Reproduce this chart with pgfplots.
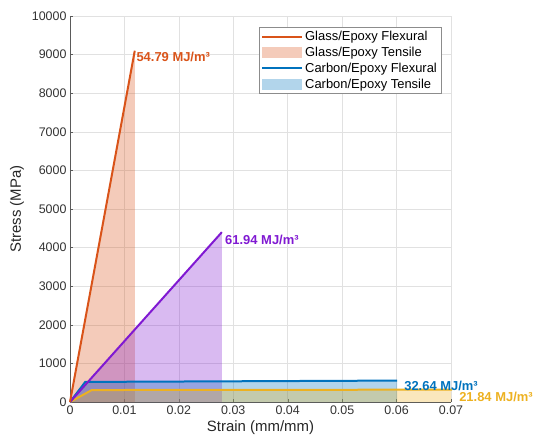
\documentclass[border=0pt]{standalone}
\usepackage{pgfplots}
\pgfplotsset{compat=1.18}
\usepackage{fontspec}
\setmainfont{Liberation Sans}
\definecolor{cOr}{RGB}{217,83,25}
\definecolor{cBl}{RGB}{0,114,189}
\definecolor{cPu}{RGB}{128,25,210}
\definecolor{cYe}{RGB}{237,177,32}
\definecolor{cGrid}{RGB}{225,225,225}
\definecolor{cAx}{RGB}{90,90,90}
\pgfplotsset{
  legline/.style={legend image code/.code={\draw[color=#1, line width=2bp] (0bp,0bp) -- (40bp,0bp);}},
  legfill/.style={legend image code/.code={\fill[draw=none, fill=#1!30!white] (0bp,-5.5bp) rectangle (40bp,5.5bp);}},
}
\begin{document}
\begin{tikzpicture}
\begin{axis}[
  at={(0,0)}, anchor=south west,
  scale only axis, width=381bp, height=386bp,
  xmin=0, xmax=0.07, ymin=0, ymax=10000,
  scaled ticks=false,
  /pgf/number format/assume math mode=true,
  axis x line*=bottom, axis y line*=left,
  axis line style={cAx, line width=0.6bp, -},
  xtick={0,0.01,0.02,0.03,0.04,0.05,0.06,0.07},
  xticklabels={0,0.01,0.02,0.03,0.04,0.05,0.06,0.07},
  ytick={0,1000,...,10000},
  yticklabels={0,1000,2000,3000,4000,5000,6000,7000,8000,9000,10000},
  tick align=inside, major tick length=3bp,
  tick style={cAx},
  grid=major, major grid style={cGrid, line width=0.5bp},
  ticklabel style={font=\fontsize{12.5}{14}\selectfont, text=black!80},
  xlabel={Strain (mm/mm)}, ylabel={Stress (MPa)},
  label style={font=\fontsize{15}{18}\selectfont, text=black!85},
  xlabel style={at={(axis description cs:0.5,-0.067)}, anchor=center},
  ylabel style={at={(axis description cs:-0.139,0.5)}, anchor=center},
  clip=false,
  legend cell align=left,
  legend style={at={(axis description cs:0.974,0.9715)}, anchor=north east,
    font=\fontsize{13}{13}\selectfont, draw=black!45,
    inner xsep=2bp, inner ysep=2bp, row sep=1bp,
    /tikz/every even column/.append style={column sep=2bp}},
]
% legend entries
\addlegendimage{legline=cOr}
\addlegendentry{Glass/Epoxy Flexural}
\addlegendimage{legfill=cOr}
\addlegendentry{Glass/Epoxy Tensile}
\addlegendimage{legline=cBl}
\addlegendentry{Carbon/Epoxy Flexural}
\addlegendimage{legfill=cBl}
\addlegendentry{Carbon/Epoxy Tensile}
% fills
\addplot[forget plot, draw=none, fill=cOr, fill opacity=0.3] coordinates {(0,0) (0.0119,9100) (0.0119,0)} -- cycle;
\addplot[forget plot, draw=none, fill=cPu, fill opacity=0.3] coordinates {(0,0) (0.0279,4400) (0.0279,0)} -- cycle;
\addplot[forget plot, draw=none, fill=cBl, fill opacity=0.3] coordinates {(0,0) (0.0028,520) (0.0601,555) (0.0601,0)} -- cycle;
\addplot[forget plot, draw=none, fill=cYe, fill opacity=0.3] coordinates {(0,0) (0.004,310) (0.07,320) (0.07,0)} -- cycle;
% lines
\addplot[forget plot, cYe, line width=2bp] coordinates {(0,0) (0.004,310) (0.0702,320)};
\addplot[forget plot, cBl, line width=2bp] coordinates {(0,0) (0.0028,520) (0.0601,555)};
\addplot[forget plot, cPu, line width=2bp] coordinates {(0,0) (0.0279,4400)};
\addplot[forget plot, cOr, line width=2bp] coordinates {(0,0) (0.0119,9100)};
% annotations
\node[anchor=west, inner sep=1bp, text=cOr, font=\fontsize{13}{13}\selectfont\bfseries] at (axis cs:0.0120,8940) {54.79 MJ/m³};
\node[anchor=west, inner sep=1bp, text=cPu, font=\fontsize{13}{13}\selectfont\bfseries] at (axis cs:0.0283,4200) {61.94 MJ/m³};
\node[anchor=west, inner sep=1bp, text=cBl, font=\fontsize{13}{13}\selectfont\bfseries] at (axis cs:0.0612,415) {32.64 MJ/m³};
\node[anchor=west, inner sep=1bp, text=cYe, font=\fontsize{13}{13}\selectfont\bfseries] at (axis cs:0.0713,130) {21.84 MJ/m³};
\end{axis}
\pgfresetboundingbox
\path[use as bounding box] (-70bp,-39bp) rectangle (464bp,402bp);
\end{tikzpicture}
\end{document}
